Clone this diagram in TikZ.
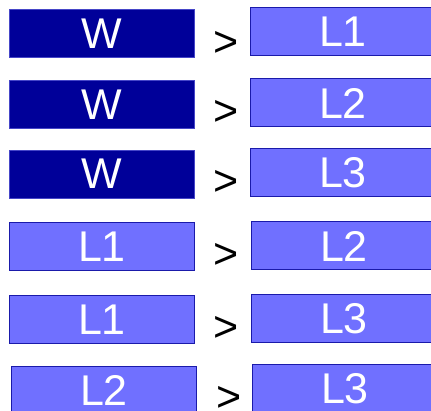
\documentclass[tikz,border=0pt]{standalone}
\usepackage{fontspec}
\newfontfamily\boxfont{Liberation Sans}
\definecolor{winfill}{RGB}{0,0,153}
\definecolor{winline}{RGB}{70,70,200}
\definecolor{losefill}{RGB}{112,112,255}
\definecolor{loseline}{RGB}{26,26,170}
\tikzset{
  tile/.style={minimum width=185pt,minimum height=48pt,inner sep=0pt,
    text=white,font=\boxfont\fontsize{43}{43}\selectfont},
  wintile/.style={tile,fill=winfill,draw=winline,line width=0.6pt},
  losetile/.style={tile,fill=losefill,draw=loseline,line width=1pt},
  gtsign/.style={inner sep=0pt,font=\boxfont\fontsize{43}{43}\selectfont}
}
\begin{document}
\begin{tikzpicture}[x=1pt,y=-1pt]
  \useasboundingbox (0,0) rectangle (431,411);
  % winner against each loser
  \node[wintile] (w1) at (102,33.5) {W};
  \node[gtsign] (g1) at (226,43.5) {>};
  \node[losetile] (l1) at (343,32) {L1};
  \node[wintile] (w2) at (102,104.5) {W};
  \node[gtsign] (g2) at (226,113) {>};
  \node[losetile] (l2) at (343,103) {L2};
  \node[wintile] (w3) at (102,174) {W};
  \node[gtsign] (g3) at (226.5,182.5) {>};
  \node[losetile] (l3) at (343,172.5) {L3};
  % losers among themselves
  \node[losetile] (a1) at (102,247) {L1};
  \node[gtsign] (g4) at (226,255.5) {>};
  \node[losetile] (b2) at (344,246) {L2};
  \node[losetile] (a2) at (102,320) {L1};
  \node[gtsign] (g5) at (226,328.5) {>};
  \node[losetile] (b3) at (344,318.5) {L3};
  \node[losetile] (c2) at (104,390.5) {L2};
  \node[gtsign] (g6) at (229,399) {>};
  \node[losetile] (c3) at (345,388.5) {L3};
\end{tikzpicture}
\end{document}
